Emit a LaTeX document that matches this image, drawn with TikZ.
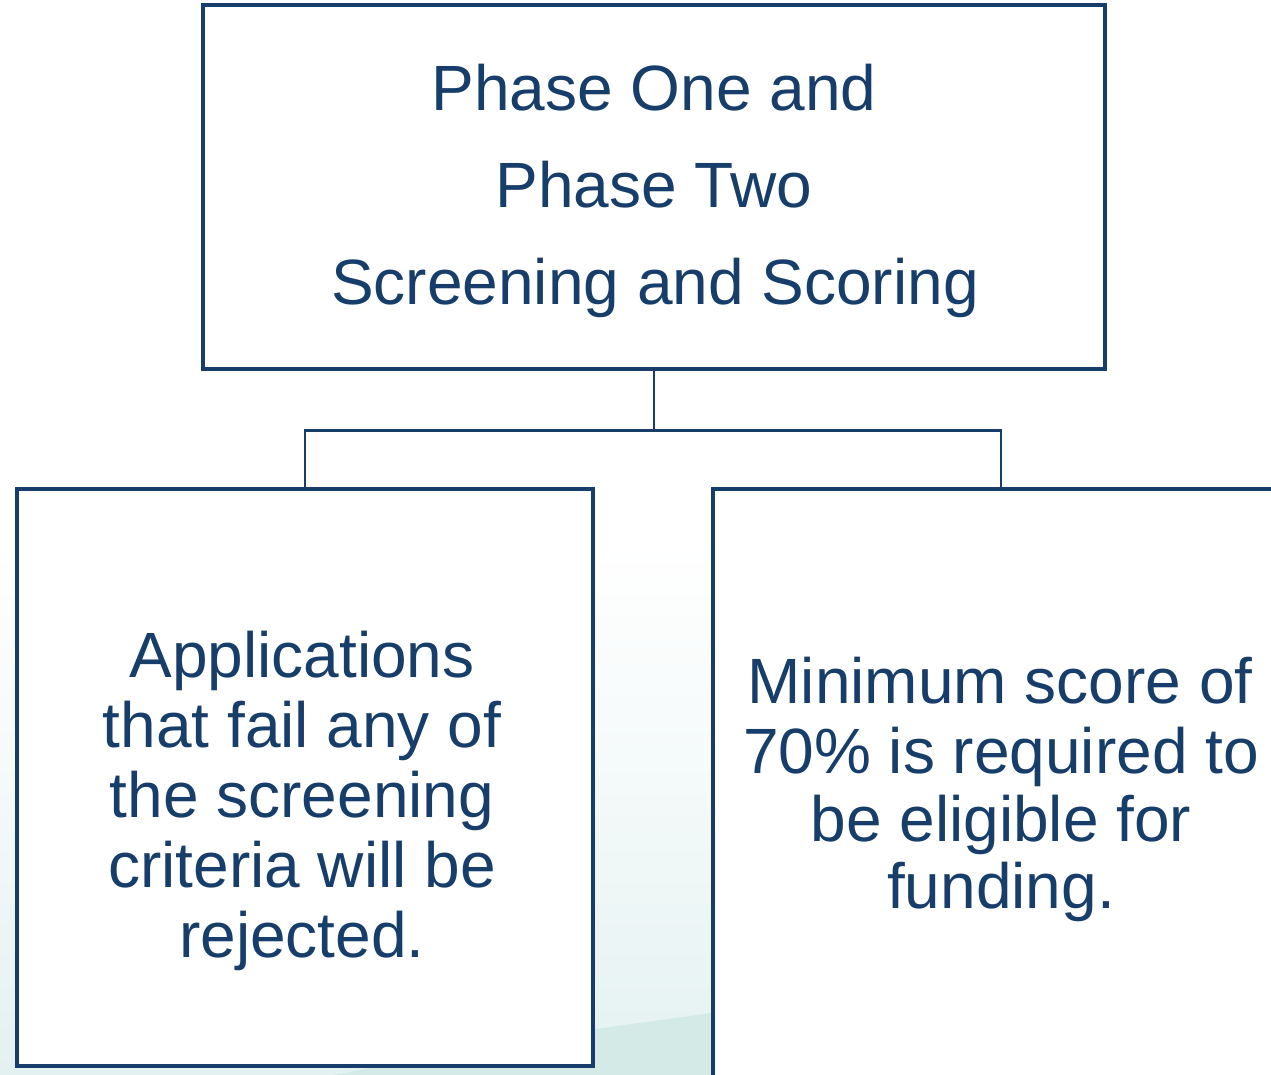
\documentclass[tikz,border=0pt]{standalone}
\usepackage{fontspec}
\setmainfont{Liberation Sans}
\definecolor{navy}{RGB}{23,62,106}
\definecolor{bgB}{RGB}{228,241,241}
\definecolor{bgC}{RGB}{212,234,231}
\begin{document}
\begin{tikzpicture}[x=1pt,y=-1pt,
  box/.style={draw=navy, line width=4pt, fill=white, inner sep=0pt, outer sep=0pt, rectangle},
  conn/.style={draw=navy, line width=2.5pt},
  txt/.style={text=navy, anchor=base, inner sep=0pt, font=\fontsize{64}{70}\selectfont}]
\useasboundingbox (0,0) rectangle (1271,1075);
\clip (0,0) rectangle (1271,1075);
\fill[white] (0,0) rectangle (1271,1075);
\shade[top color=white, bottom color=bgB, middle color=white!55!bgB] (0,540) rectangle (1271,1075);
\fill[bgC] (334,1075) .. controls (500,1042) .. (712,1013) -- (1271,930) -- (1271,1075) -- cycle;

\coordinate (j) at (654,430.5);

\node[box, minimum width=902pt, minimum height=364pt] (top) at (654,187) {};
\node[box, minimum width=576pt, minimum height=577pt] (left) at (305,777.5) {};
\node[box, minimum width=576pt, minimum height=640pt] (right) at (1001,809) {};

\draw[conn] (top.south) -- (j);
\draw[conn] (left.north) |- (j) -| (right.north);

\node[txt] (t1) at (654,111) {Phase One and};
\node[txt] (t2) at (654,208) {Phase Two};
\node[txt] (t3) at (655,305) {Screening and Scoring};

\node[txt] (l1) at (302,677) {Applications};
\node[txt] (l2) at (302,747) {that fail any of};
\node[txt] (l3) at (302,817) {the screening};
\node[txt] (l4) at (302,887) {criteria will be};
\node[txt] (l5) at (302,957) {rejected.};

\node[txt] (r1) at (1000,703) {Minimum score of};
\node[txt] (r2) at (1001,773) {70\% is required to};
\node[txt] (r3) at (1001,841) {be eligible for};
\node[txt] (r4) at (1001,908) {funding.};
\end{tikzpicture}
\end{document}
